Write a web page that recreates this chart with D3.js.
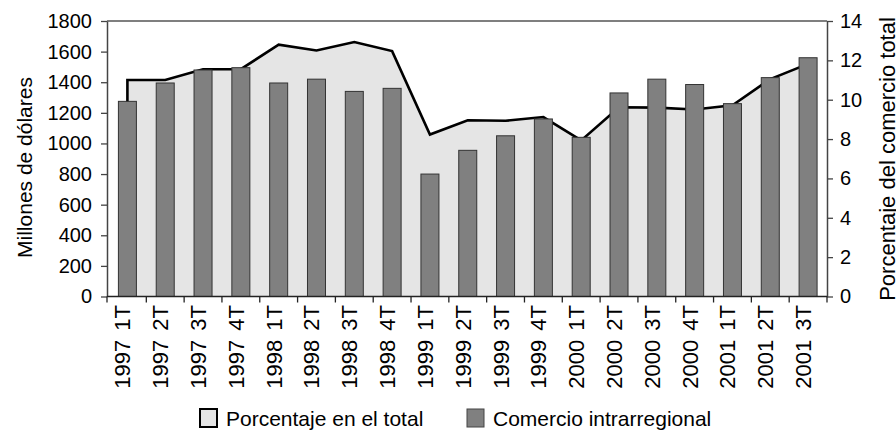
<!DOCTYPE html>
<html>
<head>
<meta charset="utf-8">
<script src="https://cdn.jsdelivr.net/npm/d3@7.9.0/dist/d3.min.js"></script>
<style>
  body { margin: 0; background: #fff; }
  svg { display: block; font-family: "Liberation Sans", Arial, sans-serif; }
</style>
</head>
<body>
<svg id="chart" width="896" height="438"></svg>
<script>
// quarters on the x axis
const categories = ["1997 1T", "1997 2T", "1997 3T", "1997 4T", "1998 1T", "1998 2T", "1998 3T", "1998 4T",
  "1999 1T", "1999 2T", "1999 3T", "1999 4T", "2000 1T", "2000 2T", "2000 3T", "2000 4T",
  "2001 1T", "2001 2T", "2001 3T"];
// bars: Comercio intrarregional (millones de dólares)
const comercio = [1275, 1395, 1480, 1495, 1395, 1420, 1340, 1360, 800, 955, 1050, 1160, 1040, 1330, 1420, 1385, 1260, 1430, 1560];
// area: Porcentaje en el total (%)
const porcentaje = [11.0, 11.0, 11.55, 11.55, 12.8, 12.5, 12.93, 12.47, 8.23, 8.96, 8.93, 9.12, 7.93, 9.62, 9.6, 9.5, 9.72, 11.05, 11.82];
const leftTicks = [0, 200, 400, 600, 800, 1000, 1200, 1400, 1600, 1800];
const rightTicks = [0, 2, 4, 6, 8, 10, 12, 14];

const svg = d3.select("#chart");
const plotLeft = 107, plotRight = 827, plotTop = 21, plotBottom = 296.5;
const tickFont = 20, labelFont = 21;

const x = d3.scaleBand().domain(categories).range([108.5, 827]).paddingInner(0.524).paddingOuter(0.262);
const yL = d3.scaleLinear().domain([0, 1800]).range([plotBottom, plotTop]);
const yR = d3.scaleLinear().domain([0, 14]).range([plotBottom, plotTop]);
const cx = d => x(d) + x.bandwidth() / 2;

const pts = categories.map((c, i) => ({ c, p: porcentaje[i], v: comercio[i] }));

// area behind the bars
const area = d3.area().x(d => cx(d.c)).y0(yR(0)).y1(d => yR(d.p));
svg.append("path").datum(pts).attr("d", area).attr("fill", "#e5e5e5");

// outline of the area (left edge, top line, right edge)
const outline = [{ c: categories[0], p: 0 }, ...pts, { c: categories[categories.length - 1], p: 0 }];
const line = d3.line().x(d => cx(d.c)).y(d => yR(d.p));
svg.append("path").datum(outline).attr("d", line)
  .attr("fill", "none").attr("stroke", "#000").attr("stroke-width", 2.6).attr("stroke-linejoin", "miter");

// bars
svg.append("g").selectAll("rect").data(pts).join("rect")
  .attr("x", d => x(d.c))
  .attr("y", d => yL(d.v))
  .attr("width", x.bandwidth())
  .attr("height", d => yL(0) - yL(d.v))
  .attr("fill", "#808080")
  .attr("stroke", "#333")
  .attr("stroke-width", 1);

// plot frame top line
svg.append("line").attr("x1", plotLeft).attr("x2", plotRight).attr("y1", plotTop).attr("y2", plotTop)
  .attr("stroke", "#555").attr("stroke-width", 1.5);

// left axis
const gL = svg.append("g").attr("transform", `translate(${plotLeft},0)`)
  .call(d3.axisLeft(yL).tickValues(leftTicks).tickFormat(d3.format("d")).tickSize(6).tickPadding(9).tickSizeOuter(0));
// right axis
const gR = svg.append("g").attr("transform", `translate(${plotRight},0)`)
  .call(d3.axisRight(yR).tickValues(rightTicks).tickFormat(d3.format("d")).tickSize(6).tickPadding(7).tickSizeOuter(0));
[gL, gR].forEach(g => {
  g.selectAll("text").attr("font-size", tickFont).attr("font-family", null).attr("fill", "#000");
  g.selectAll("line").attr("stroke", "#444").attr("stroke-width", 1.3);
  g.select(".domain").attr("stroke", "#444").attr("stroke-width", 1.5);
});

// bottom axis: labels at band centres, tick marks at band boundaries
const gB = svg.append("g").attr("transform", `translate(0,${plotBottom})`)
  .call(d3.axisBottom(x).tickSize(0).tickSizeOuter(0));
gB.select(".domain").attr("d", `M${plotLeft},0H${plotRight}`).attr("stroke", "#222").attr("stroke-width", 1.5);
gB.selectAll("text")
  .attr("font-size", 22).attr("font-family", null).attr("fill", "#000")
  .style("word-spacing", "3px")
  .attr("transform", "rotate(-90)")
  .attr("text-anchor", "end")
  .attr("x", -8.5).attr("y", 3).attr("dy", 0);
const bounds = [plotLeft, ...categories.slice(1).map(c => cx(c) - x.step() / 2), plotRight];
gB.selectAll(".sep").data(bounds).join("line").attr("class", "sep")
  .attr("x1", d => d).attr("x2", d => d).attr("y1", 0).attr("y2", 6)
  .attr("stroke", "#222").attr("stroke-width", 1.3);

// axis titles
svg.append("text").attr("transform", `translate(32,167.5) rotate(-90)`)
  .attr("text-anchor", "middle").attr("font-size", labelFont).text("Millones de dólares");
svg.append("text").attr("transform", `translate(895,159) rotate(-90)`)
  .attr("text-anchor", "middle").attr("font-size", 22).text("Porcentaje del comercio total");

// legend
const legend = svg.append("g");
legend.append("rect").attr("x", 200).attr("y", 409).attr("width", 17).attr("height", 18)
  .attr("fill", "#e5e5e5").attr("stroke", "#000").attr("stroke-width", 2);
legend.append("text").attr("x", 226).attr("y", 425.5).attr("font-size", labelFont).text("Porcentaje en el total");
legend.append("rect").attr("x", 467).attr("y", 409).attr("width", 17).attr("height", 18)
  .attr("fill", "#808080").attr("stroke", "#444").attr("stroke-width", 1);
legend.append("text").attr("x", 493).attr("y", 425.5).attr("font-size", labelFont).text("Comercio intrarregional");
</script>
</body>
</html>
